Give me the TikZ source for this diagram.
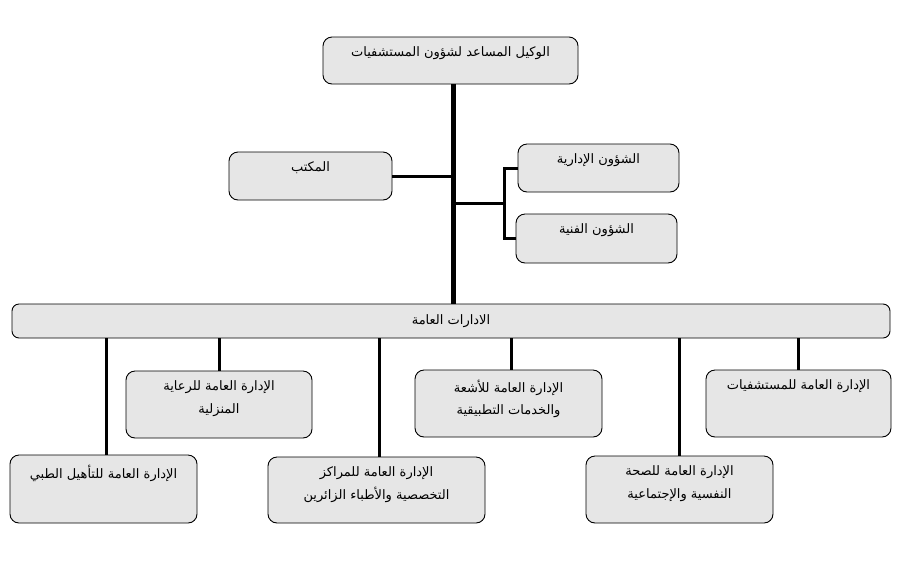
\documentclass[tikz,border=0pt]{standalone}
\usepackage{fontspec}
\newfontfamily\arabicfont[Script=Arabic]{DejaVu Sans}
\TeXXeTstate=1
\usetikzlibrary{calc}
\definecolor{boxgray}{HTML}{E6E6E6}
\tikzset{
  box/.style={draw=black, line width=0.9pt, rounded corners=9pt, fill=boxgray, inner sep=0pt},
  boxtext/.style={label={[anchor=north, yshift=-10pt, align=center, font=\arabicfont\fontsize{13}{22.5}\selectfont, inner sep=0pt]north:{#1}}},
  trunkline/.style={line width=5pt},
  link/.style={line width=3pt}
}
\begin{document}
\begin{tikzpicture}[x=1pt,y=-1pt]
\useasboundingbox (0,0) rectangle (903,566);
\fill[white] (0,0) rectangle (903,566);
% boxes
\node[box, minimum width=255, minimum height=47, boxtext={\beginR الوكيل المساعد لشؤون المستشفيات\endR}] (top) at (450.5,60.5) {};
\node[box, minimum width=163, minimum height=48, boxtext={\beginR المكتب\endR}] (office) at (310.5,176) {};
\node[box, minimum width=161, minimum height=48, boxtext={\beginR الشؤون الإدارية\endR}] (admin) at (598.5,168) {};
\node[box, minimum width=161, minimum height=49, boxtext={\beginR الشؤون الفنية\endR}] (tech) at (596.5,238.5) {};
\node[box, minimum width=878, minimum height=34, rounded corners=7pt, font=\arabicfont\fontsize{13}{16}\selectfont] (bar) at (451,321) {\beginR الادارات العامة\endR};
\node[box, minimum width=186, minimum height=67, boxtext={\beginR الإدارة العامة للرعاية\endR\\\beginR المنزلية\endR}] (home) at (219,404.5) {};
\node[box, minimum width=187, minimum height=67, boxtext={\beginR الإدارة العامة للأشعة\endR\\\beginR والخدمات التطبيقية\endR}] (xray) at (508.5,403.5) {};
\node[box, minimum width=185, minimum height=67, boxtext={\beginR الإدارة العامة للمستشفيات\endR}] (hosp) at (798.5,403.5) {};
\node[box, minimum width=187, minimum height=68, boxtext={\beginR الإدارة العامة للتأهيل الطبي\endR}] (rehab) at (103.5,489) {};
\node[box, minimum width=217, minimum height=66, boxtext={\beginR الإدارة العامة للمراكز\endR\\\beginR التخصصية والأطباء الزائرين\endR}] (centers) at (376.5,490) {};
\node[box, minimum width=187, minimum height=67, boxtext={\beginR الإدارة العامة للصحة\endR\\\beginR النفسية والإجتماعية\endR}] (psych) at (679.5,489.5) {};
% connectors
\coordinate (tk) at ([xshift=2.5pt]top.south);
\draw[trunkline] (tk) -- (tk |- bar.north);
\draw[link] (office.east) -- (office.east -| tk);
\coordinate (br) at ([xshift=-13pt]admin.west);
\draw[link] (admin.west) -- (br) |- (tech.west);
\coordinate (mid) at ($(br)!0.5!(br |- tech.west)$);
\draw[link] (mid) -- (mid -| tk);
\draw[link] ([xshift=2.5pt]rehab.north) -- ([xshift=2.5pt]rehab.north |- bar.south);
\draw[link] (home.north) -- (home.north |- bar.south);
\draw[link] ([xshift=3pt]centers.north) -- ([xshift=3pt]centers.north |- bar.south);
\draw[link] ([xshift=2.5pt]xray.north) -- ([xshift=2.5pt]xray.north |- bar.south);
\draw[link] (psych.north) -- (psych.north |- bar.south);
\draw[link] (hosp.north) -- (hosp.north |- bar.south);
\end{tikzpicture}
\end{document}
